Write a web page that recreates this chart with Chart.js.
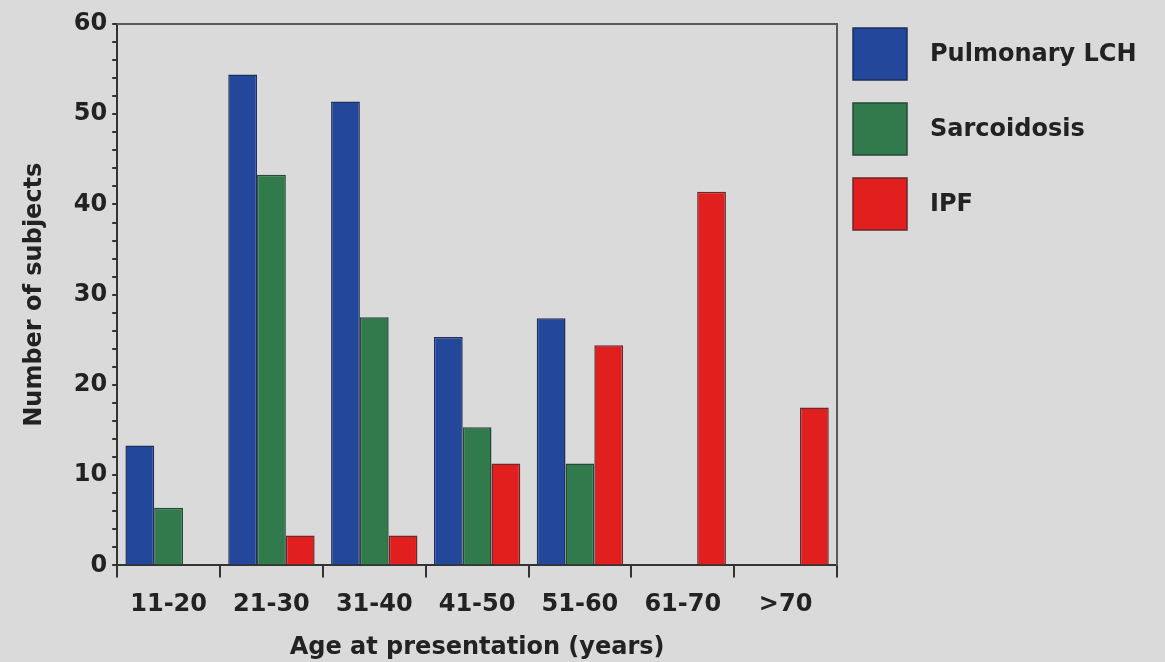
<!DOCTYPE html>
<html>
<head>
<meta charset="utf-8">
<script src="https://cdn.jsdelivr.net/npm/chart.js@4/dist/chart.umd.min.js"></script>
<style>
  html, body { margin: 0; padding: 0; background: #dadada; }
  canvas { display: block; }
</style>
</head>
<body>
<canvas id="myChart" width="1165" height="662"></canvas>
<script>
// Data
var ageGroups = ['11-20', '21-30', '31-40', '41-50', '51-60', '61-70', '>70'];
var lchValues = [13.3, 54.4, 51.4, 25.3, 27.4, null, null];
var sarcValues = [6.4, 43.3, 27.5, 15.3, 11.3, null, null];
var ipfValues = [null, 3.3, 3.3, 11.3, 24.4, 41.4, 17.5];

Chart.defaults.font.family = "'DejaVu Sans', Verdana, sans-serif";
Chart.defaults.font.weight = 'bold';
Chart.defaults.color = '#222';

var FS = 24;

// top + right edge of the plot box
var frameBox = {
    id: 'frameBox',
    afterDraw: function(chart) {
        var a = chart.chartArea, c = chart.ctx;
        c.save();
        c.strokeStyle = '#5a5a5a';
        c.lineWidth = 2;
        c.beginPath();
        c.moveTo(a.left, a.top);
        c.lineTo(a.right, a.top);
        c.lineTo(a.right, a.bottom);
        c.stroke();
        c.restore();
    }
};

// legend to the right of the plot (built-in one gets clipped at this width)
var sideLegend = {
    id: 'sideLegend',
    afterDraw: function(chart) {
        var a = chart.chartArea, c = chart.ctx;
        c.save();
        chart.data.datasets.forEach(function(ds, i) {
            var x = a.right + 16, y = 28 + i * 75;
            c.fillStyle = ds.backgroundColor;
            c.fillRect(x, y, 54, 52);
            c.strokeStyle = ds.borderColor;
            c.lineWidth = 1.5;
            c.strokeRect(x, y, 54, 52);
            c.fillStyle = '#222';
            c.font = 'bold ' + FS + "px 'DejaVu Sans', Verdana, sans-serif";
            c.textBaseline = 'middle';
            c.textAlign = 'left';
            c.fillText(ds.label, x + 77, y + 27);
        });
        c.restore();
    }
};

var ctx = document.getElementById('myChart').getContext('2d');
var myChart = new Chart(ctx, {
    type: 'bar',
    data: {
        labels: ageGroups,
        datasets: [{
            label: 'Pulmonary LCH',
            data: lchValues,
            backgroundColor: '#23489b',
            borderColor: '#1e2f5c',
            borderWidth: 1.5
        }, {
            label: 'Sarcoidosis',
            data: sarcValues,
            backgroundColor: '#317a4c',
            borderColor: '#24483a',
            borderWidth: 1.5
        }, {
            label: 'IPF',
            data: ipfValues,
            backgroundColor: '#e21f1f',
            borderColor: '#6a2a2a',
            borderWidth: 1.5
        }]
    },
    options: {
        responsive: false,
        animation: false,
        devicePixelRatio: 1,
        layout: { padding: { top: 5, left: 20, right: 328, bottom: 0 } },
        datasets: {
            bar: { categoryPercentage: 0.84, barPercentage: 1.0 }
        },
        plugins: {
            tooltip: { enabled: false },
            legend: { display: false }
        },
        scales: {
            // spacer on top so the plot box starts a bit lower
            xTop: {
                type: 'category',
                position: 'top',
                grid: { display: false },
                border: { display: false },
                ticks: { display: false },
                afterFit: function(s) { s.height = 19; }
            },
            x: {
                grid: {
                    offset: true,
                    drawOnChartArea: false,
                    tickLength: 12,
                    color: '#333',
                    lineWidth: 2
                },
                border: { color: '#333', width: 2 },
                ticks: { font: { size: FS, weight: 'bold' }, padding: 13, color: '#222' },
                title: {
                    display: true,
                    text: 'Age at presentation (years)',
                    font: { size: FS, weight: 'bold' },
                    color: '#222',
                    padding: { top: 1, bottom: 0 }
                }
            },
            y: {
                min: 0,
                max: 60,
                grid: {
                    drawOnChartArea: false,
                    tickLength: 5,
                    color: '#333',
                    lineWidth: 2
                },
                border: { color: '#333', width: 2 },
                ticks: {
                    stepSize: 2,
                    autoSkip: false,
                    padding: 5,
                    font: { size: FS, weight: 'bold' },
                    color: '#222',
                    callback: function(v) { return v % 10 === 0 ? v : ''; }
                },
                title: {
                    display: true,
                    text: 'Number of subjects',
                    font: { size: FS, weight: 'bold' },
                    color: '#222',
                    padding: { top: 0, bottom: 20 }
                }
            }
        }
    },
    plugins: [frameBox, sideLegend]
});
</script>
</body>
</html>
